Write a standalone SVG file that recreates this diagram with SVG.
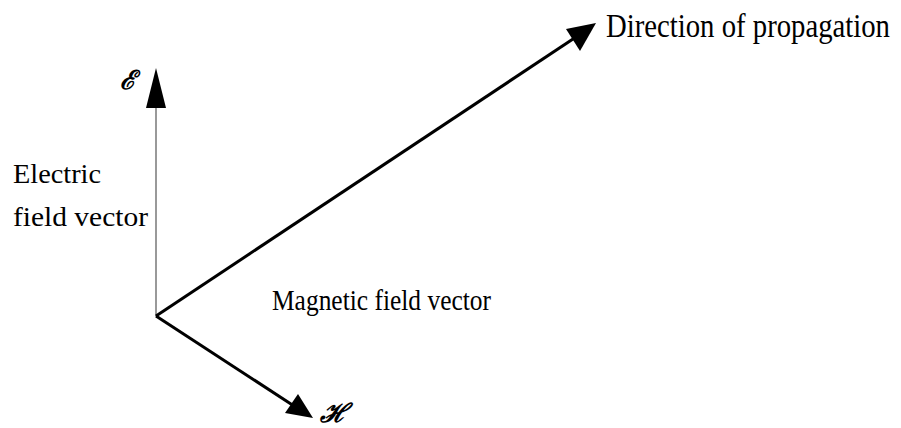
<svg xmlns="http://www.w3.org/2000/svg" width="901" height="428" viewBox="0 0 901 428">
<style>
.t{font-family:"Liberation Serif","Times New Roman",serif;fill:#000}
.ln{stroke:#000;stroke-width:3;fill:none}
.ah{fill:#000}
</style>
<rect width="901" height="428" fill="#fff"/>
<g id="connectors">
<line x1="156" y1="316" x2="156" y2="104" stroke="#777" stroke-width="1.5"/>
<line class="ln" x1="156" y1="316" x2="576" y2="37"/>
<line class="ln" x1="156" y1="316" x2="294" y2="406"/>
</g>
<g id="arrow-e"><polygon class="ah" points="156,68 146,108 166,108"/></g>
<g id="arrow-p"><polygon class="ah" points="596,23 566,29 580,51"/></g>
<g id="arrow-h"><polygon class="ah" points="313,418 285,413 298,394"/></g>
<g id="label-e"><text class="t" x="120" y="89" font-size="26" font-style="italic" font-weight="bold">ℰ</text></g>
<g id="label-electric">
<text class="t" x="13" y="183" font-size="28" textLength="88" lengthAdjust="spacingAndGlyphs">Electric</text>
<text class="t" x="13" y="226" font-size="28" textLength="135" lengthAdjust="spacingAndGlyphs">field vector</text>
</g>
<g id="label-direction"><text class="t" transform="translate(606,37) scale(1,1.18)" x="0" y="0" font-size="29" textLength="284" lengthAdjust="spacingAndGlyphs">Direction of propagation</text></g>
<g id="label-magnetic"><text class="t" x="272" y="310" font-size="29" textLength="219" lengthAdjust="spacingAndGlyphs">Magnetic field vector</text></g>
<g id="label-h"><text class="t" x="320" y="422" font-size="26" font-style="italic" font-weight="bold">ℋ</text></g>
</svg>
